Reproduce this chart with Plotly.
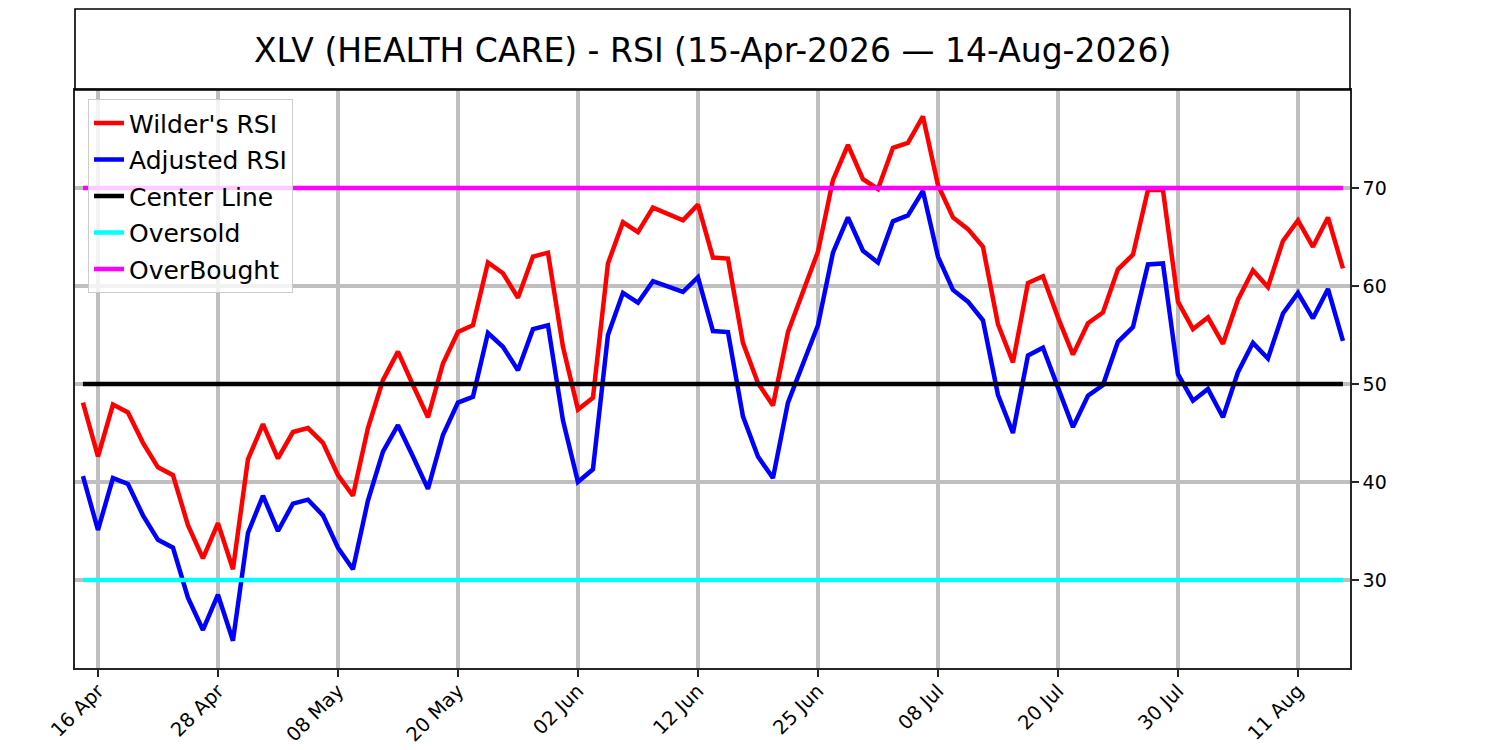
import plotly.graph_objects as go

# ---------------- data ----------------
dates = [
    "2026-04-15", "2026-04-16", "2026-04-17", "2026-04-20", "2026-04-21", "2026-04-22",
    "2026-04-23", "2026-04-24", "2026-04-27", "2026-04-28", "2026-04-29", "2026-04-30",
    "2026-05-01", "2026-05-04", "2026-05-05", "2026-05-06", "2026-05-07", "2026-05-08",
    "2026-05-11", "2026-05-12", "2026-05-13", "2026-05-14", "2026-05-15", "2026-05-18",
    "2026-05-19", "2026-05-20", "2026-05-21", "2026-05-22", "2026-05-26", "2026-05-27",
    "2026-05-28", "2026-05-29", "2026-06-01", "2026-06-02", "2026-06-03", "2026-06-04",
    "2026-06-05", "2026-06-08", "2026-06-09", "2026-06-10", "2026-06-11", "2026-06-12",
    "2026-06-15", "2026-06-16", "2026-06-17", "2026-06-18", "2026-06-22", "2026-06-23",
    "2026-06-24", "2026-06-25", "2026-06-26", "2026-06-29", "2026-06-30", "2026-07-01",
    "2026-07-02", "2026-07-06", "2026-07-07", "2026-07-08", "2026-07-09", "2026-07-10",
    "2026-07-13", "2026-07-14", "2026-07-15", "2026-07-16", "2026-07-17", "2026-07-20",
    "2026-07-21", "2026-07-22", "2026-07-23", "2026-07-24", "2026-07-27", "2026-07-28",
    "2026-07-29", "2026-07-30", "2026-07-31", "2026-08-03", "2026-08-04", "2026-08-05",
    "2026-08-06", "2026-08-07", "2026-08-10", "2026-08-11", "2026-08-12", "2026-08-13",
    "2026-08-14",
]

wilders_rsi = [
    48.1, 42.6, 47.9, 47.1, 44.0, 41.5, 40.7, 35.6, 32.2, 35.8,
    31.1, 42.3, 45.9, 42.4, 45.1, 45.5, 44.0, 40.7, 38.6, 45.5,
    50.4, 53.3, 49.9, 46.6, 52.1, 55.3, 56.0, 62.4, 61.3, 58.8,
    63.0, 63.4, 53.8, 47.4, 48.6, 62.3, 66.5, 65.5, 68.0, 67.3,
    66.7, 68.3, 62.9, 62.8, 54.2, 50.1, 47.8, 55.3, 59.4, 63.5,
    70.8, 74.4, 70.9, 69.9, 74.1, 74.6, 77.3, 70.3, 67.0, 65.8,
    64.0, 56.1, 52.2, 60.3, 61.0, 56.8, 53.0, 56.2, 57.3, 61.7,
    63.2, 69.8, 69.8, 58.4, 55.6, 56.8, 54.1, 58.6, 61.6, 59.9,
    64.6, 66.7, 64.0, 67.0, 61.8,
]

adjusted_rsi = [
    40.6, 35.1, 40.4, 39.8, 36.6, 34.1, 33.3, 28.2, 24.9, 28.5,
    23.8, 34.8, 38.6, 35.0, 37.8, 38.2, 36.6, 33.3, 31.1, 38.1,
    43.1, 45.8, 42.6, 39.3, 44.8, 48.1, 48.7, 55.2, 53.8, 51.4,
    55.6, 56.0, 46.3, 40.0, 41.3, 55.0, 59.3, 58.3, 60.5, 59.9,
    59.4, 60.9, 55.4, 55.3, 46.7, 42.6, 40.4, 48.1, 52.1, 56.0,
    63.4, 67.0, 63.6, 62.4, 66.6, 67.2, 69.7, 63.0, 59.6, 58.4,
    56.5, 48.9, 45.0, 52.9, 53.7, 49.5, 45.6, 48.8, 49.9, 54.3,
    55.8, 62.2, 62.3, 51.0, 48.3, 49.5, 46.6, 51.2, 54.2, 52.6,
    57.2, 59.3, 56.7, 59.7, 54.4,
]

center_level = 50
oversold_level = 30
overbought_level = 70

tick_dates = ["2026-04-16", "2026-04-28", "2026-05-08", "2026-05-20", "2026-06-02",
              "2026-06-12", "2026-06-25", "2026-07-08", "2026-07-20", "2026-07-30",
              "2026-08-11"]
tick_labels = ["16 Apr", "28 Apr", "08 May", "20 May", "02 Jun", "12 Jun",
               "25 Jun", "08 Jul", "20 Jul", "30 Jul", "11 Aug"]
y_ticks = [30, 40, 50, 60, 70]

title_text = "XLV (HEALTH CARE) - RSI (15-Apr-2026 \u2014 14-Aug-2026)"

# ---------------- figure ----------------
FONT = "DejaVu Sans"
W, H = 1500, 750
ML, MR, MT, MB = 67, 158, 82, 90
plot_h = H - MT - MB

fig = go.Figure()

series = [
    ("Wilder's RSI", wilders_rsi, "#ff0000"),
    ("Adjusted RSI", adjusted_rsi, "#0000ff"),
    ("Center Line", [center_level] * len(dates), "#000000"),
    ("Oversold", [oversold_level] * len(dates), "#00ffff"),
    ("OverBought", [overbought_level] * len(dates), "#ff00ff"),
]
for i, (name, vals, col) in enumerate(series):
    fig.add_trace(go.Scatter(
        x=dates, y=vals, mode="lines", name=name,
        line=dict(color=col, width=4.5),
        legendgroup=f"g{i}",
    ))

# title box
fig.add_shape(type="rect", xref="paper", yref="paper",
              x0=0, x1=1, y0=1, y1=1 + 81 / plot_h,
              line=dict(color="black", width=1.6), fillcolor="rgba(0,0,0,0)")
fig.add_annotation(text=title_text, xref="paper", yref="paper",
                   x=0.5, y=1 + 40 / plot_h, xanchor="center", yanchor="middle",
                   showarrow=False, font=dict(family=FONT, size=33, color="black"))

fig.update_layout(
    width=W, height=H,
    margin=dict(l=ML, r=MR, t=MT, b=MB),
    paper_bgcolor="white", plot_bgcolor="white",
    font=dict(family=FONT, color="black"),
    showlegend=True,
    legend=dict(
        x=0.0102, y=0.984, xanchor="left", yanchor="top",
        bgcolor="rgba(255,255,255,0.8)", bordercolor="#cccccc", borderwidth=1,
        font=dict(family=FONT, size=25, color="black"),
        tracegroupgap=1, itemwidth=30,
    ),
    xaxis=dict(
        type="category",
        categoryorder="array", categoryarray=dates,
        range=[-0.53, 84.47],
        tickmode="array", tickvals=tick_dates, ticktext=tick_labels,
        tickangle=-45,
        tickfont=dict(family=FONT, size=19.5, color="black"),
        ticklabelstandoff=-5,
        ticks="outside", ticklen=7, tickwidth=1.5, tickcolor="#262626",
        showgrid=True, gridcolor="#bfbfbf", gridwidth=3.5,
        showline=True, linecolor="#262626", linewidth=1.6, mirror=True,
        zeroline=False, automargin=False,
    ),
    yaxis=dict(
        side="right",
        range=[21.02, 80.0],
        tickmode="array", tickvals=y_ticks,
        tickfont=dict(family=FONT, size=19, color="black"),
        ticks="outside", ticklen=7, tickwidth=1.5, tickcolor="#262626",
        showgrid=True, gridcolor="#bfbfbf", gridwidth=3.5,
        showline=True, linecolor="#262626", linewidth=1.6, mirror=True,
        zeroline=False, automargin=False,
    ),
)

fig.write_html("out.html")
